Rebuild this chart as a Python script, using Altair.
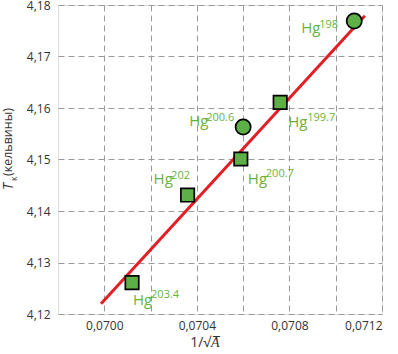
import altair as alt
import pandas as pd

# ---- data ----
isotopes = ["198", "199.7", "200.6", "200.7", "202", "203.4"]
inv_sqrt_a = [0.07108, 0.07076, 0.07060, 0.07059, 0.07036, 0.07012]
tc_kelvin = [4.1769, 4.1611, 4.1563, 4.1501, 4.1431, 4.1261]
marker_shape = ["circle", "square", "circle", "square", "square", "square"]

fit_x = [0.069986, 0.071126]
fit_y = [4.1220, 4.1779]

x_ticks = [0.0700, 0.0702, 0.0704, 0.0706, 0.0708, 0.0710, 0.0712]
y_ticks = [4.12, 4.13, 4.14, 4.15, 4.16, 4.17, 4.18]

# marker sizes per shape (style, not data)
shape_sizes = {"circle": 230, "square": 180}

# label offsets (pixels) relative to each point: (Hg dx, Hg dy, sup dx, sup dy)
label_offsets = {
    "198": (-53, 12, -35, 7),
    "199.7": (8, 25, 27, 18.5),
    "200.6": (-54, -1.5, -37, -6.5),
    "200.7": (7, 25, 25, 18.3),
    "202": (-34, -11.3, -16.5, -16.3),
    "203.4": (1, 22, 19, 15.3),
}

FONT = "Open Sans"
GREEN_TXT = "#6ab23e"
GREEN_FILL = "#5cb046"
RED = "#e31e24"

df = pd.DataFrame({"iso": isotopes, "x": inv_sqrt_a, "y": tc_kelvin, "shape": marker_shape})
df["msize"] = df["shape"].map(shape_sizes)
fit = pd.DataFrame({"x": fit_x, "y": fit_y})

xscale = alt.Scale(domain=[0.0698, 0.0712], zero=False, nice=False)
yscale = alt.Scale(domain=[4.12, 4.18], zero=False, nice=False)

x_axis = alt.Axis(
    values=x_ticks,
    labelExpr="round(datum.value*10000) % 4 == 0 ? replace(format(datum.value, '.4f'), '.', ',') : ''",
    title=None, ticks=False, domain=False, grid=True,
    gridDash=[6, 4], gridColor="#9a9a9a", gridWidth=1,
    labelFont=FONT, labelFontSize=12, labelColor="#333333", labelPadding=6,
)
y_axis = alt.Axis(
    values=y_ticks,
    labelExpr="replace(format(datum.value, '.2f'), '.', ',')",
    title=None, ticks=False, domain=False, grid=True,
    gridDash=[6, 4], gridColor="#9a9a9a", gridWidth=1,
    labelFont=FONT, labelFontSize=12, labelColor="#333333", labelPadding=8,
)

line = alt.Chart(fit).mark_line(color=RED, strokeWidth=3).encode(
    x=alt.X("x:Q", scale=xscale, axis=x_axis),
    y=alt.Y("y:Q", scale=yscale, axis=y_axis),
)

points = alt.Chart(df).mark_point(
    filled=True, fill=GREEN_FILL, stroke="black", strokeWidth=1.7, opacity=1
).encode(
    x=alt.X("x:Q", scale=xscale),
    y=alt.Y("y:Q", scale=yscale),
    shape=alt.Shape("shape:N", scale=None),
    size=alt.Size("msize:Q", scale=None),
)

layers = [line, points]
for iso in isotopes:
    hdx, hdy, sdx, sdy = label_offsets[iso]
    base = alt.Chart(df).transform_filter(alt.datum.iso == iso).transform_calculate(
        hg="'Hg'"
    )
    layers.append(
        base.mark_text(font=FONT, fontSize=15, color=GREEN_TXT, align="left",
                       baseline="alphabetic", dx=hdx, dy=hdy).encode(
            x=alt.X("x:Q", scale=xscale), y=alt.Y("y:Q", scale=yscale), text="hg:N")
    )
    layers.append(
        base.mark_text(font=FONT, fontSize=11, color=GREEN_TXT, align="left",
                       baseline="alphabetic", dx=sdx, dy=sdy).encode(
            x=alt.X("x:Q", scale=xscale), y=alt.Y("y:Q", scale=yscale), text="iso:N")
    )

# axis titles built from text marks (italic/subscript parts)
def title_text(txt, x, y, size, angle=0, style="normal", align="left"):
    return alt.Chart(pd.DataFrame({"t": [txt]})).mark_text(
        font=FONT, fontSize=size, fontStyle=style, color="#333333", angle=angle,
        align=align, baseline="middle"
    ).encode(x=alt.value(x), y=alt.value(y), text="t:N")

layers += [
    title_text("T", -49, 185, 14, angle=270, style="italic"),
    title_text("к", -44, 176, 9, angle=270),
    title_text("(кельвины)", -50, 171, 12.5, angle=270),
    title_text("1/√", 153, 338, 14, align="right"),
    title_text("A\u0305", 153, 338, 14, style="italic"),
]

chart = alt.layer(*layers).properties(
    width=324, height=309,
    autosize=alt.AutoSizeParams(type="none"),
    padding={"left": 58, "top": 5, "right": 16, "bottom": 40},
).configure_view(stroke="#555555", strokeWidth=1.5).configure(background="white")

chart.save("out.html", embed_options={"renderer": "svg", "actions": False})
